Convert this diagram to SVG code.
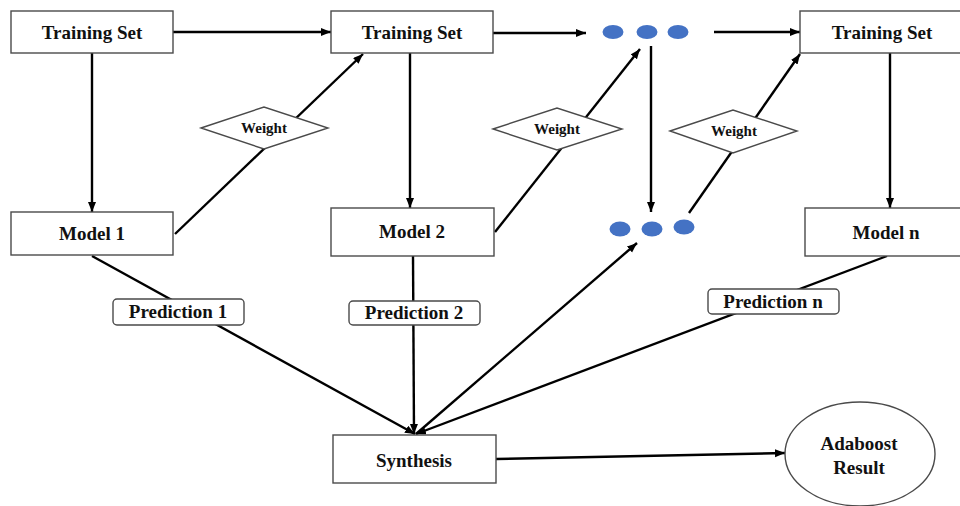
<svg xmlns="http://www.w3.org/2000/svg" width="960" height="506" viewBox="0 0 960 506">
  <style>
    .box { fill: #ffffff; stroke: #4a4a4a; stroke-width: 1.4; }
    .lbl { font-family: "Liberation Serif", "Times New Roman", serif; font-weight: bold; font-size: 19px; fill: #111111; text-anchor: middle; }
    .small { font-size: 15px; }
    .edge { stroke: #000000; stroke-width: 2.4; fill: none; }
    .arrow { marker-end: url(#head); }
    .dot { fill: #4472C4; }
  </style>
  <defs>
    <marker id="head" markerUnits="userSpaceOnUse" markerWidth="11" markerHeight="9" refX="10" refY="4" orient="auto">
      <path d="M0,0 L10,4 L0,8 z" fill="#000000"/>
    </marker>
  </defs>
  <rect width="960" height="506" fill="#ffffff"/>

  <!-- connectors -->
  <g id="connectors">
    <line class="edge arrow" x1="173" y1="32" x2="331" y2="32"/>
    <line class="edge arrow" x1="493" y1="33" x2="586" y2="33"/>
    <line class="edge arrow" x1="714" y1="32" x2="800" y2="32"/>
    <line class="edge arrow" x1="92" y1="53" x2="92" y2="212"/>
    <line class="edge arrow" x1="410" y1="53" x2="410" y2="208"/>
    <line class="edge arrow" x1="890" y1="53" x2="890" y2="208"/>
    <line class="edge arrow" x1="651" y1="46" x2="651" y2="212"/>
    <line class="edge arrow" x1="175" y1="234" x2="363" y2="54"/>
    <line class="edge arrow" x1="495" y1="232" x2="640" y2="49"/>
    <line class="edge arrow" x1="689" y1="213" x2="800" y2="54"/>
    <line class="edge arrow" x1="92" y1="256" x2="415" y2="434"/>
    <line class="edge arrow" x1="413" y1="256" x2="414" y2="434"/>
    <line class="edge arrow" x1="887" y1="256" x2="416" y2="434"/>
    <line class="edge arrow" x1="416" y1="434" x2="637" y2="243"/>
    <line class="edge arrow" x1="496" y1="459" x2="785" y2="453"/>
  </g>

  <!-- training sets -->
  <g id="training-set-1">
    <rect class="box" x="11" y="11" width="162" height="42"/>
    <text class="lbl" x="92" y="39">Training Set</text>
  </g>
  <g id="training-set-2">
    <rect class="box" x="331" y="11" width="162" height="42"/>
    <text class="lbl" x="412" y="39">Training Set</text>
  </g>
  <g id="training-set-n">
    <rect class="box" x="800" y="11" width="164" height="42"/>
    <text class="lbl" x="882" y="39">Training Set</text>
  </g>

  <!-- ellipsis markers -->
  <g id="dots-top">
    <ellipse class="dot" cx="613" cy="32" rx="10.5" ry="7"/>
    <ellipse class="dot" cx="647" cy="32" rx="10.5" ry="7"/>
    <ellipse class="dot" cx="678" cy="32" rx="10.5" ry="7"/>
  </g>
  <g id="dots-bottom">
    <ellipse class="dot" cx="620" cy="229" rx="10.5" ry="7.5"/>
    <ellipse class="dot" cx="652" cy="229" rx="10.5" ry="7.5"/>
    <ellipse class="dot" cx="684" cy="227" rx="10.5" ry="7.5"/>
  </g>

  <!-- weight diamonds -->
  <g id="weight-1">
    <polygon class="box" points="201,128 264,107 328,128 264,149"/>
    <text class="lbl small" x="264" y="133">Weight</text>
  </g>
  <g id="weight-2">
    <polygon class="box" points="493,129 557,108 622,129 557,150"/>
    <text class="lbl small" x="557" y="134">Weight</text>
  </g>
  <g id="weight-n">
    <polygon class="box" points="670,131 733,110 797,131 733,153"/>
    <text class="lbl small" x="734" y="136">Weight</text>
  </g>

  <!-- models -->
  <g id="model-1">
    <rect class="box" x="11" y="212" width="162" height="43"/>
    <text class="lbl" x="92" y="240">Model 1</text>
  </g>
  <g id="model-2">
    <rect class="box" x="331" y="208" width="163" height="48"/>
    <text class="lbl" x="412" y="238">Model 2</text>
  </g>
  <g id="model-n">
    <rect class="box" x="805" y="208" width="160" height="48"/>
    <text class="lbl" x="886" y="239">Model n</text>
  </g>

  <!-- predictions -->
  <g id="prediction-1">
    <rect class="box" x="113" y="299" width="131" height="26" rx="4"/>
    <text class="lbl" x="178" y="318">Prediction 1</text>
  </g>
  <g id="prediction-2">
    <rect class="box" x="349" y="301" width="131" height="24" rx="4"/>
    <text class="lbl" x="414" y="319">Prediction 2</text>
  </g>
  <g id="prediction-n">
    <rect class="box" x="708" y="289" width="131" height="25" rx="4"/>
    <text class="lbl" x="773" y="308">Prediction n</text>
  </g>

  <!-- combination and result -->
  <g id="synthesis">
    <rect class="box" x="333" y="435" width="163" height="48"/>
    <text class="lbl" x="414" y="467">Synthesis</text>
  </g>
  <g id="adaboost-result">
    <ellipse class="box" cx="860" cy="454" rx="75" ry="52"/>
    <text class="lbl" x="859" y="450">Adaboost</text>
    <text class="lbl" x="859" y="474">Result</text>
  </g>
</svg>
